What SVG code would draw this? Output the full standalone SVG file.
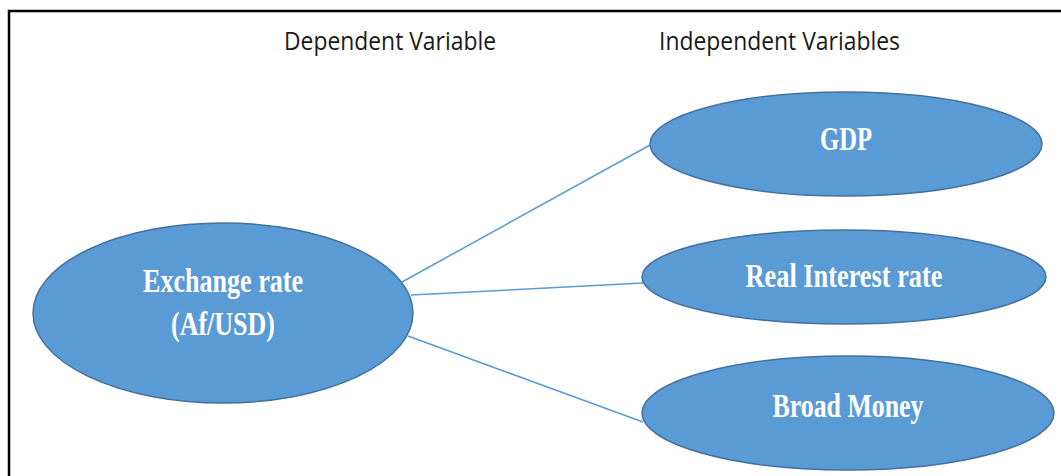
<svg xmlns="http://www.w3.org/2000/svg" width="1061" height="476" viewBox="0 0 1061 476">
  <style>
    .frame { fill: none; stroke: #000; stroke-width: 2.5; }
    .heading { font-family: "Open Sans", "Liberation Sans", sans-serif; font-size: 25px; fill: #1a1a1a; }
    .node ellipse { fill: #5B9BD5; stroke: #41719C; stroke-width: 1.5; }
    .node text { font-family: "Liberation Serif", "Times New Roman", serif; font-weight: bold; font-size: 33px; fill: #fff; text-anchor: middle; }
    .link { stroke: #5B9BD5; stroke-width: 1.5; fill: none; }
  </style>

  <rect width="1061" height="476" fill="#fff"/>
  <path class="frame" d="M9,476 V11 H1061"/>

  <text class="heading" x="284" y="50" textLength="212" lengthAdjust="spacingAndGlyphs">Dependent Variable</text>
  <text class="heading" x="659" y="50" textLength="241" lengthAdjust="spacingAndGlyphs">Independent Variables</text>

  <g id="connectors">
    <line class="link" x1="402" y1="282" x2="650" y2="145"/>
    <line class="link" x1="411" y1="295" x2="643" y2="283"/>
    <line class="link" x1="408" y1="336" x2="643" y2="422"/>
  </g>

  <g id="exchange-rate" class="node">
    <ellipse cx="223" cy="313" rx="190" ry="90"/>
    <text x="223" y="292" textLength="160" lengthAdjust="spacingAndGlyphs">Exchange rate</text>
    <text x="223" y="335" textLength="104" lengthAdjust="spacingAndGlyphs">(Af/USD)</text>
  </g>

  <g id="gdp" class="node">
    <ellipse cx="846" cy="144" rx="196" ry="52"/>
    <text x="846" y="150" textLength="52" lengthAdjust="spacingAndGlyphs">GDP</text>
  </g>

  <g id="real-interest-rate" class="node">
    <ellipse cx="844" cy="277" rx="202" ry="47"/>
    <text x="844" y="287" textLength="197" lengthAdjust="spacingAndGlyphs">Real Interest rate</text>
  </g>

  <g id="broad-money" class="node">
    <ellipse cx="848" cy="413" rx="206" ry="57"/>
    <text x="848" y="417" textLength="151" lengthAdjust="spacingAndGlyphs">Broad Money</text>
  </g>
</svg>
